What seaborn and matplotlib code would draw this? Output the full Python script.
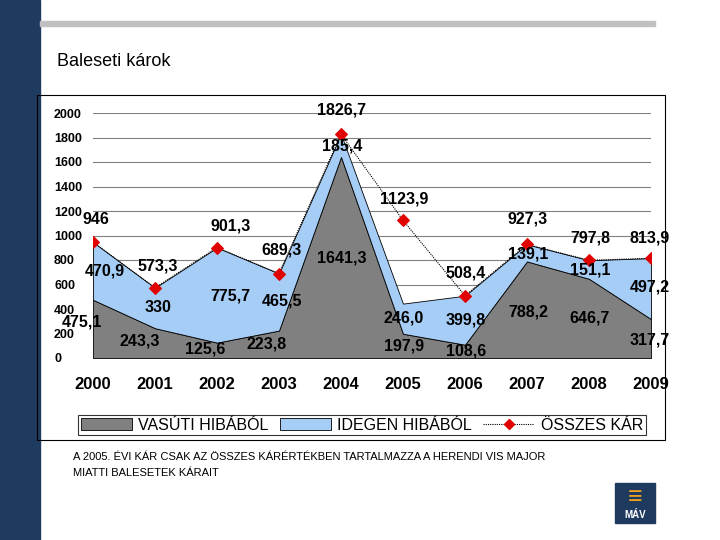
import matplotlib
matplotlib.use("Agg")
import matplotlib.pyplot as plt
import seaborn as sns
import pandas as pd
from matplotlib.patches import Rectangle
from matplotlib.lines import Line2D

plt.rcParams["font.family"] = "Liberation Sans"

years = ["2000","2001","2002","2003","2004","2005","2006","2007","2008","2009"]
vasuti = [475.1, 243.3, 125.6, 223.8, 1641.3, 197.9, 108.6, 788.2, 646.7, 317.7]
idegen = [470.9, 330.0, 775.7, 465.5, 185.4, 246.0, 399.8, 139.1, 151.1, 497.2]
osszes = [946.0, 573.3, 901.3, 689.3, 1826.7, 1123.9, 508.4, 927.3, 797.8, 813.9]
dec_v = [1]*10
dec_i = [1,0,1,1,1,1,1,1,1,1]
dec_o = [0,1,1,1,1,1,1,1,1,1]

# label offsets in pixels from (x_i, 0)
off_v = [(-11,36),(-15,17),(-12,9),(-12,14),(1,100),(1,12),(1,7),(1,46),(1,40),(-1,18)]
off_i = [(12,87),(3,51),(13,62),(3,57),(1,212),(1,40),(1,38),(1,104),(1,88),(-1,71)]
off_o = [(3,139),(3,92),(14,132),(3,108),(1,248),(1,159),(1,85),(1,139),(1,120),(-1,120)]

fmt = lambda v, d: f"{v:.{d}f}".replace(".", ",")

fig = plt.figure(figsize=(7.2,5.4), dpi=100)
fig.patch.set_facecolor("white")
fig.add_artist(Rectangle((0,0),40/720,1,transform=fig.transFigure,color="#1f3a5f",zorder=0))
fig.add_artist(Rectangle((40/720,1-26/540),615/720,5/540,transform=fig.transFigure,color="#c0c0c0",zorder=0))
fig.add_artist(Rectangle((37/720,1-440/540),628/720,345/540,transform=fig.transFigure,
                         fill=False,ec="black",lw=0.8,zorder=1))
fig.text(57/720,1-62/540,"Baleseti károk",fontsize=13,va="center")
fig.text(73/720,1-457/540,"A 2005. ÉVI KÁR CSAK AZ ÖSSZES KÁRÉRTÉKBEN TARTALMAZZA A HERENDI VIS MAJOR",
         fontsize=8,va="center")
fig.text(73/720,1-473/540,"MIATTI BALESETEK KÁRAIT",fontsize=8,va="center")
fig.add_artist(Rectangle((615/720,1-523/540),40/720,40/540,transform=fig.transFigure,color="#1f3a5f"))
fig.text(635/720,1-515/540,"MÁV",color="white",fontsize=7,fontweight="bold",ha="center",va="center")
fig.text(635/720,1-497/540,"≡",color="#f0a020",fontsize=18,fontweight="bold",ha="center",va="center")

ax = fig.add_axes([93/720, 1-358/540, 558/720, 245/540])
x = list(range(len(years)))
tops = [a+b for a,b in zip(vasuti, idegen)]
ax.fill_between(x, 0, vasuti, color="#808080", ec="black", lw=0.6, zorder=2)
ax.fill_between(x, vasuti, tops, color="#a6cdf5", ec="black", lw=0.6, zorder=2)
df = pd.DataFrame({"x": x, "v": osszes})
sns.lineplot(data=df, x="x", y="v", ax=ax, color="black", lw=0.8, linestyle=(0,(1,1)),
             marker="D", markersize=6, markerfacecolor="#e00000", markeredgecolor="#e00000", zorder=3)
ax.set_xlim(0,9)
ax.set_ylim(0,2000)
ax.set_yticks(range(0,2001,200))
ax.set_yticklabels([str(v) for v in range(0,2001,200)], fontsize=9, fontweight="bold")
for lab in ax.get_yticklabels():
    lab.set_ha("left")
ax.tick_params(axis="y", length=0, pad=28)
ax.set_xticks(x)
ax.set_xticklabels(years, fontsize=12, fontweight="bold")
ax.tick_params(axis="x", length=0, pad=14)
ax.grid(axis="y", color="#808080", lw=0.8, zorder=0)
ax.set_axisbelow(True)
for s in ax.spines.values():
    s.set_visible(False)
ax.set_xlabel(""); ax.set_ylabel("")

for vals, offs, decs in ((vasuti, off_v, dec_v), (idegen, off_i, dec_i), (osszes, off_o, dec_o)):
    for i,(v,o,d) in enumerate(zip(vals, offs, decs)):
        ax.annotate(fmt(v,d), (i,0), xytext=o, textcoords="offset pixels", ha="center", va="center",
                    fontsize=11.5, fontweight="bold", annotation_clip=False, zorder=5)

handles = [Rectangle((0,0),1,1,fc="#808080",ec="black",lw=0.6),
           Rectangle((0,0),1,1,fc="#a6cdf5",ec="black",lw=0.6),
           Line2D([],[],color="black",lw=0.8,linestyle=(0,(1,1)),marker="D",markersize=5,
                  markerfacecolor="#e00000",markeredgecolor="#e00000")]
leg = fig.legend(handles, ["VASÚTI HIBÁBÓL","IDEGEN HIBÁBÓL","ÖSSZES KÁR"], ncol=3,
                 loc="center", bbox_to_anchor=(362/720,1-425/540), fontsize=11.5,
                 frameon=True, fancybox=False, edgecolor="black", handlelength=3.2,
                 handletextpad=0.4, columnspacing=0.7, borderpad=0.15)
leg.get_frame().set_linewidth(0.8)
fig.savefig("out.png", dpi=100)
